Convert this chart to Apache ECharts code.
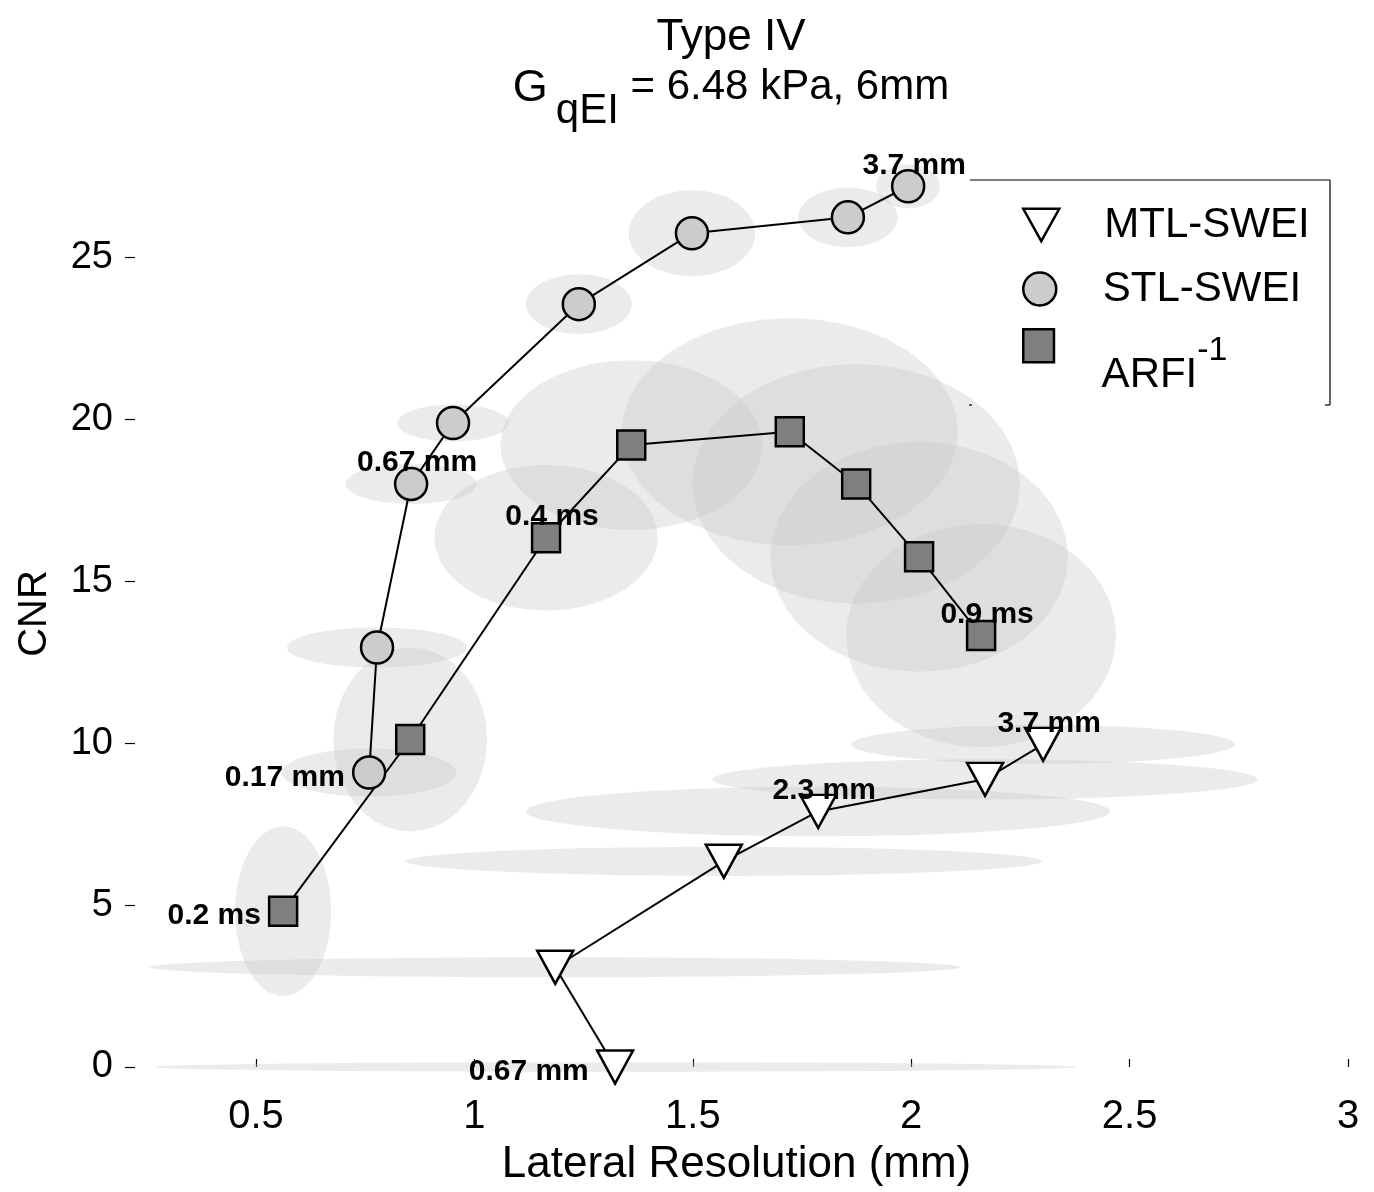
<!DOCTYPE html>
<html>
<head>
<meta charset="utf-8">
<script src="https://cdn.jsdelivr.net/npm/echarts@6/dist/echarts.min.js"></script>
<style>html,body{margin:0;padding:0;background:#fff}#c{width:1374px;height:1192px}</style>
</head>
<body>
<div id="c"></div>
<script>
// ---- data ----
const mtlX  = [1.322, 1.185, 1.571, 1.787, 2.169, 2.302];
const mtlY  = [0.00, 3.08, 6.35, 7.89, 8.88, 9.96];
const mtlSx = [1.06, 0.93, 0.73, 0.67, 0.625, 0.44];
const mtlSy = [0.15, 0.31, 0.45, 0.77, 0.62, 0.60];
const mtlLabels = ['0.67 mm', '', '', '2.3 mm', '', '3.7 mm'];

const stlX  = [0.759, 0.777, 0.855, 0.951, 1.239, 1.498, 1.855, 1.993];
const stlY  = [9.09, 12.95, 18.00, 19.88, 23.55, 25.74, 26.23, 27.19];
const stlSx = [0.20, 0.206, 0.15, 0.128, 0.121, 0.145, 0.114, 0.073];
const stlSy = [0.74, 0.62, 0.62, 0.57, 0.92, 1.33, 0.92, 0.68];
const stlLabels = ['0.17 mm', '', '0.67 mm', '', '', '', '', '3.7 mm'];

const arfiX  = [0.562, 0.853, 1.164, 1.359, 1.722, 1.874, 2.018, 2.160];
const arfiY  = [4.81, 10.11, 16.34, 19.20, 19.61, 18.00, 15.75, 13.32];
const arfiSx = [0.110, 0.176, 0.256, 0.300, 0.385, 0.375, 0.341, 0.309];
const arfiSy = [2.62, 2.84, 2.25, 2.62, 3.51, 3.70, 3.55, 3.45];
const arfiLabels = ['0.2 ms', '', '0.4 ms', '', '', '', '', '0.9 ms'];

const xTicks = [0.5, 1, 1.5, 2, 2.5, 3];
const yTicks = [0, 5, 10, 15, 20, 25];
const seriesNames = ['MTL-SWEI', 'STL-SWEI', 'ARFI'];

// ---- styling ----
const FONT = '"Liberation Sans", Arial, Helvetica, sans-serif';
const TRI = 'path://M0,0L20,0L10,18Z';
const SQR = 'path://M0,0h27v29h-27z';

function renderEllipse(params, api) {
  const c = api.coord([api.value(0), api.value(1)]);
  const s = api.size([api.value(2), api.value(3)]);
  const pts = [];
  const n = 40;
  for (let k = 0; k < n; k++) {
    const t = k / n * Math.PI * 2;
    pts.push([c[0] + s[0] / 2 * Math.cos(t), c[1] + s[1] / 2 * Math.sin(t)]);
  }
  return { type: 'polygon', shape: { points: pts }, style: { fill: 'rgba(200,200,200,0.36)' } };
}
function ellipseSeries(xs, ys, sx, sy) {
  // sx, sy are half-widths -> full span = 2*s
  return {
    type: 'custom', renderItem: renderEllipse, silent: true, clip: false, z: 1,
    encode: { x: 0, y: 1 },
    data: xs.map((x, i) => [x, ys[i], 2 * sx[i], 2 * sy[i]])
  };
}
function pointData(xs, ys, labels) {
  return xs.map((x, i) => {
    const item = { value: [x, ys[i]] };
    if (labels[i]) {
      item.label = i === 0
        ? { show: true, formatter: labels[i], position: 'left', distance: 7, offset: [0, 5] }
        : { show: true, formatter: labels[i], position: 'inside', offset: [6, -21] };
    }
    return item;
  });
}
const labelStyle = { fontFamily: FONT, fontWeight: 'bold', fontSize: 30, color: '#000' };

function legendBox(name, icon, top, textStyle, fmt) {
  return {
    orient: 'vertical', left: 1022, top: top, padding: 0,
    itemWidth: 36, itemHeight: 33,
    data: [{ name: name, icon: icon }],
    itemStyle: { borderColor: '#000', borderWidth: 2.5 },
    formatter: fmt,
    textStyle: textStyle
  };
}
const legTextPlain = {
  fontFamily: FONT, fontSize: 42, color: '#000',
  rich: { m: { fontFamily: FONT, fontSize: 42, lineHeight: 46, color: '#000', padding: [0, 0, 0, 40] } }
};
const legTextSup = {
  fontFamily: FONT, fontSize: 42, color: '#000', padding: [35, 0, 0, 0],
  rich: {
    h: { fontFamily: FONT, fontSize: 42, lineHeight: 25, color: 'rgba(0,0,0,0)', padding: [0, 0, 0, 40] },
    s: { fontFamily: FONT, fontSize: 34, lineHeight: 25, color: '#000' },
    n: { fontFamily: FONT, fontSize: 42, lineHeight: 25, color: '#000', padding: [0, 0, 0, 40] }
  }
};

const option = {
  animation: false,
  backgroundColor: '#fff',
  grid: { left: 125, right: 26, top: 160, bottom: 124, containLabel: false },
  xAxis: {
    type: 'value', min: 0.2, max: 3,
    axisLine: { show: false },
    splitLine: { show: false },
    axisTick: { show: true, inside: true, length: 8, lineStyle: { color: '#000', width: 1.2 }, customValues: xTicks },
    axisLabel: { customValues: xTicks, margin: 30, fontFamily: FONT, fontSize: 40, color: '#000' },
    name: 'Lateral Resolution (mm)', nameLocation: 'middle', nameGap: 76,
    nameTextStyle: { fontFamily: FONT, fontSize: 44, color: '#000' }
  },
  yAxis: {
    type: 'value', min: 0, max: 28,
    axisLine: { show: false },
    splitLine: { show: false },
    axisTick: { show: true, inside: true, length: 10, lineStyle: { color: '#000', width: 1.2 }, customValues: yTicks },
    axisLabel: { customValues: yTicks, margin: 12, fontFamily: FONT, fontSize: 38, color: '#000' },
    name: 'CNR', nameLocation: 'middle', nameGap: 70, nameRotate: 90,
    nameTextStyle: { fontFamily: FONT, fontSize: 40, color: '#000' }
  },
  legend: [
    legendBox(seriesNames[0], TRI, 204, legTextPlain, n => '{m|' + n + '}'),
    legendBox(seriesNames[1], 'circle', 268, legTextPlain, n => '{m|' + n + '}'),
    legendBox(seriesNames[2], SQR, 328, legTextSup, n => '{h|' + n + '}{s|-1}\n{n|' + n + '}')
  ],
  graphic: [
    {
      type: 'text', x: 731, y: 10, z: 10,
      style: {
        text: '{a|Type IV}\n{g|G}{s|qEI}{b| = 6.48 kPa, 6mm}',
        align: 'center', verticalAlign: 'top',
        rich: {
          a: { fontFamily: FONT, fontSize: 44, lineHeight: 56, fill: '#000', align: 'center' },
          g: { fontFamily: FONT, fontSize: 45, lineHeight: 46, fill: '#000', verticalAlign: 'top' },
          b: { fontFamily: FONT, fontSize: 42, lineHeight: 46, fill: '#000', verticalAlign: 'top' },
          s: { fontFamily: FONT, fontSize: 42, lineHeight: 46, fill: '#000', padding: [24, 0, 0, 8], verticalAlign: 'top' }
        }
      }
    },
    { type: 'line', shape: { x1: 970, y1: 180, x2: 1330, y2: 180 }, style: { stroke: '#000', lineWidth: 1.2 }, z: 10 },
    { type: 'line', shape: { x1: 1330, y1: 180, x2: 1330, y2: 405 }, style: { stroke: '#000', lineWidth: 1.2 }, z: 10 },
    { type: 'line', shape: { x1: 1325, y1: 405, x2: 1330, y2: 405 }, style: { stroke: '#000', lineWidth: 1.2 }, z: 10 },
    { type: 'line', shape: { x1: 969, y1: 405, x2: 972, y2: 405 }, style: { stroke: '#000', lineWidth: 1.2 }, z: 10 }
  ],
  series: [
    ellipseSeries(arfiX, arfiY, arfiSx, arfiSy),
    ellipseSeries(stlX, stlY, stlSx, stlSy),
    ellipseSeries(mtlX, mtlY, mtlSx, mtlSy),
    {
      name: seriesNames[0], type: 'line', z: 5, clip: false,
      symbol: TRI, symbolSize: [36, 33],
      lineStyle: { color: '#000', width: 2 },
      itemStyle: { color: '#fff', borderColor: '#000', borderWidth: 2.5 },
      label: labelStyle,
      data: pointData(mtlX, mtlY, mtlLabels)
    },
    {
      name: seriesNames[1], type: 'line', z: 5, clip: false,
      symbol: 'circle', symbolSize: 32,
      lineStyle: { color: '#000', width: 2 },
      itemStyle: { color: '#cccccc', borderColor: '#000', borderWidth: 2.5 },
      label: labelStyle,
      data: pointData(stlX, stlY, stlLabels)
    },
    {
      name: seriesNames[2], type: 'line', z: 5, clip: false,
      symbol: 'rect', symbolSize: [28, 29],
      lineStyle: { color: '#000', width: 2 },
      itemStyle: { color: '#7f7f7f', borderColor: '#000', borderWidth: 2.5 },
      label: labelStyle,
      data: pointData(arfiX, arfiY, arfiLabels)
    }
  ]
};
const chart = echarts.init(document.getElementById('c'), null, { renderer: 'canvas' });
chart.setOption(option);
</script>
</body>
</html>
